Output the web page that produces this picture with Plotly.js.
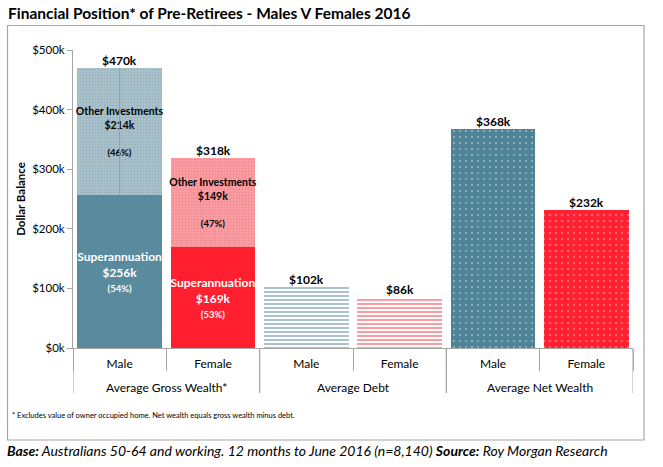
<!DOCTYPE html>
<html>
<head>
<meta charset="utf-8">
<script src="https://cdn.plot.ly/plotly-3.0.1.min.js"></script>
<style>
html,body{margin:0;padding:0;background:#fff;}
#chart{width:663px;height:467px;}
</style>
</head>
<body>
<div id="chart"></div>
<script>
// ---- data ----
const groups = ["Average Gross Wealth*", "Average Gross Wealth*", "Average Debt", "Average Debt", "Average Net Wealth", "Average Net Wealth"];
const genders = ["Male", "Female", "Male", "Female", "Male", "Female"];
const superVals = [256, 169];
const superPct = [54, 53];
const otherVals = [214, 149];
const otherPct = [46, 47];
const grossTotals = [470, 318];
const debtVals = [102, 86];
const netVals = [368, 232];
const yTicks = [0, 100, 200, 300, 400, 500];

const FONT = "Lato, 'Open Sans', sans-serif";
const maleSuper = "#5A8A9D", femaleSuper = "#FF1F2F";
const maleLight = "#A9C3CD", femaleLight = "#FF9CA2";

// category positions (index of each bar on the axis)
const pos = genders.map((g, i) => i);
const gPos = pos.slice(0, 2), dPos = pos.slice(2, 4), nPos = pos.slice(4, 6);

const traces = [
  {
    type: "bar", name: "Superannuation", x: gPos, y: superVals,
    marker: {color: [maleSuper, femaleSuper], line: {width: 0}},
    text: superVals.map((v, i) => "Superannuation<br>$" + v + "k<br><span style='font-size:9.5px'>(" + superPct[i] + "%)</span>"),
    textposition: "inside", insidetextanchor: "middle", constraintext: "none", textangle: 0,
    textfont: {family: FONT, size: 12, color: "#ffffff", weight: "bold"},
    hoverinfo: "skip"
  },
  {
    type: "bar", name: "Other Investments", x: gPos, y: otherVals,
    marker: {
      color: [maleLight, femaleLight], line: {width: 0},
      pattern: {shape: ".", size: 3, solidity: 0.3, fgcolor: "#ffffff", fgopacity: 0.15, fillmode: "overlay"}
    },
    text: otherVals.map((v, i) => "Other Investments<br>$" + v + "k<br><span style='font-size:6px'> </span><br><span style='font-size:9.5px'>(" + otherPct[i] + "%)</span>"),
    textposition: "inside", insidetextanchor: "middle", constraintext: "none", textangle: 0,
    textfont: {family: FONT, size: 10.5, color: "#000000", weight: "bold"},
    hoverinfo: "skip"
  },
  {
    type: "bar", name: "Debt", x: dPos, y: debtVals,
    marker: {
      color: "#ffffff", line: {width: 0},
      pattern: {shape: "-", size: 4, solidity: 0.5, fgcolor: [maleLight, femaleLight], bgcolor: "#ffffff", fillmode: "replace"}
    },
    hoverinfo: "skip"
  },
  {
    type: "bar", name: "Net", x: nPos, y: netVals,
    marker: {
      color: ["#4F8397", "#FF2131"], line: {width: 0},
      pattern: {shape: ".", size: 6, solidity: 0.1, fgcolor: "#ffffff", fgopacity: 0.4, fillmode: "overlay"}
    },
    hoverinfo: "skip"
  }
];

// total labels from data
const topVals = [grossTotals[0], grossTotals[1], debtVals[0], debtVals[1], netVals[0], netVals[1]];
const annotations = topVals.map((v, i) => ({
  x: pos[i], y: v, xref: "x", yref: "y", text: "$" + v + "k", showarrow: false,
  yanchor: "bottom", yshift: -2,
  font: {family: FONT, size: 12, color: "#000", weight: "bold"}
}));

// plot geometry (px)
const W = 663, H = 467, L = 73, R = 30, T = 50, B = 119;
const pw = W - L - R, ph = H - T - B;
const px = v => (v - L) / pw;
const py = v => (H - B - v) / ph;

// group labels and dividers derived from the groups array
const groupNames = [...new Set(groups)];
const shapes = [];
groupNames.forEach(gname => {
  const idx = pos.filter(i => groups[i] === gname);
  const lo = Math.min(...idx), hi = Math.max(...idx);
  annotations.push({
    x: (lo + hi) / 2, xref: "x", y: py(387), yref: "paper", yanchor: "middle",
    text: gname, showarrow: false, font: {family: FONT, size: 12, color: "#000"}
  });
  [lo - 0.5, hi + 0.5].forEach(b => shapes.push({
    type: "line", xref: "x", yref: "paper", x0: b, x1: b, y0: py(348), y1: py(393),
    line: {color: "#a6a6a6", width: 1}
  }));
});

annotations.push(
  {xref: "paper", yref: "paper", x: px(6), y: py(13), xanchor: "left", yanchor: "middle", showarrow: false,
   text: "Financial Position* of Pre-Retirees - Males V Females 2016",
   font: {family: FONT, size: 15.5, color: "#000", weight: "bold"}},
  {xref: "paper", yref: "paper", x: px(10), y: py(416), xanchor: "left", yanchor: "middle", showarrow: false,
   text: "* Excludes value of owner occupied home. Net wealth equals gross wealth minus debt.",
   font: {family: FONT, size: 7.5, color: "#000"}},
  {xref: "paper", yref: "paper", x: px(5), y: py(451), xanchor: "left", yanchor: "middle", showarrow: false,
   text: "<b><i>Base:</i></b><i> Australians 50-64 and working. 12 months to June 2016 (n=8,140) </i><b><i>Source:</i></b><i> Roy Morgan Research</i>",
   font: {family: FONT, size: 14, color: "#000"}}
);

shapes.push(
  {type: "rect", xref: "paper", yref: "paper", x0: px(7.5), x1: px(644), y0: py(440), y1: py(25.5),
   line: {color: "#a6a6a6", width: 1.2}, fillcolor: "rgba(0,0,0,0)", layer: "below"},
  {type: "line", xref: "x", yref: "y", x0: pos[0], x1: pos[0], y0: superVals[0], y1: grossTotals[0],
   line: {color: "#7FA1AE", width: 1}}
);

const layout = {
  width: W, height: H,
  margin: {l: L, r: R, t: T, b: B, pad: 0},
  paper_bgcolor: "#ffffff", plot_bgcolor: "#ffffff",
  barmode: "stack", bargap: 0.09,
  showlegend: false,
  font: {family: FONT, size: 11, color: "#000"},
  xaxis: {
    type: "linear", range: [-0.5, genders.length - 0.5],
    tickvals: pos, ticktext: genders,
    showline: true, linecolor: "#a6a6a6", linewidth: 1,
    ticks: "", ticklabelstandoff: 5,
    minor: {tick0: -0.5, dtick: 1, ticks: "outside", ticklen: 22, tickcolor: "#a6a6a6", tickwidth: 1, showgrid: false},
    tickfont: {family: FONT, size: 12, color: "#000"},
    showgrid: false, zeroline: false, fixedrange: true
  },
  yaxis: {
    range: [0, 500], tickvals: yTicks, ticktext: yTicks.map(v => "$" + v + "k"),
    showline: true, linecolor: "#a6a6a6", linewidth: 1,
    ticks: "outside", ticklen: 5, tickcolor: "#a6a6a6",
    tickfont: {family: FONT, size: 11.5, color: "#000"},
    showgrid: false, zeroline: false, fixedrange: true,
    title: {text: "<b>Dollar Balance</b>", font: {family: FONT, size: 11.5, color: "#000"}, standoff: 4}
  },
  annotations: annotations,
  shapes: shapes
};

Plotly.newPlot("chart", traces, layout, {staticPlot: true, displayModeBar: false});
</script>
</body>
</html>
